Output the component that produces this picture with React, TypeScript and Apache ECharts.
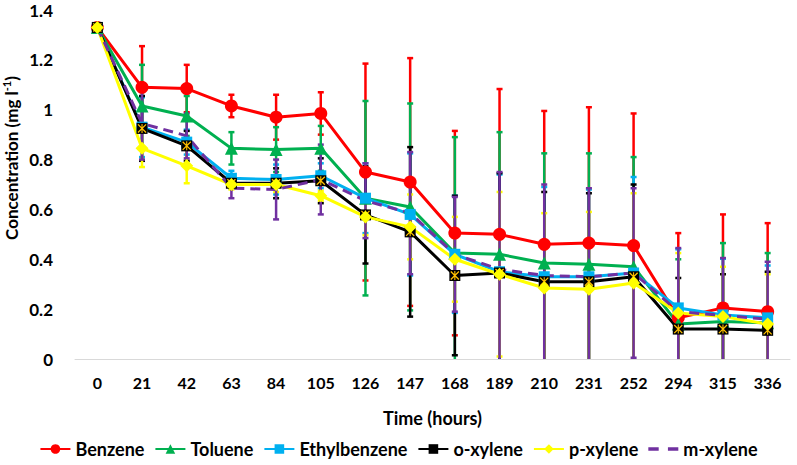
import React, { useEffect, useRef } from "react";
import * as echarts from "echarts";

const categories = ["0", "21", "42", "63", "84", "105", "126", "147", "168", "189", "210", "231", "252", "294", "315", "336"];
const yTicks = [0, 0.2, 0.4, 0.6, 0.8, 1, 1.2, 1.4];

const benzene = [1.33, 1.09, 1.085, 1.015, 0.97, 0.985, 0.75, 0.71, 0.505, 0.5, 0.46, 0.465, 0.455, 0.165, 0.205, 0.19];
const benzeneErr = [0, 0.165, 0.095, 0.045, 0.09, 0.085, 0.435, 0.497, 0.41, 0.583, 0.535, 0.545, 0.53, 0.34, 0.375, 0.355];
const toluene = [1.33, 1.015, 0.975, 0.845, 0.84, 0.845, 0.645, 0.61, 0.425, 0.42, 0.385, 0.38, 0.37, 0.14, 0.15, 0.145];
const tolueneErr = [0, 0.165, 0.08, 0.065, 0.09, 0.09, 0.39, 0.415, 0.465, 0.49, 0.44, 0.445, 0.44, 0.26, 0.315, 0.28];
const ethylbenzene = [1.33, 0.93, 0.87, 0.725, 0.72, 0.735, 0.645, 0.58, 0.42, 0.35, 0.33, 0.33, 0.345, 0.205, 0.177, 0.165];
const ethylbenzeneErr = [0, 0.12, 0.05, 0.03, 0.06, 0.05, 0.14, 0.245, 0.235, 0.39, 0.36, 0.35, 0.385, 0.235, 0.225, 0.21];
const oXylene = [1.33, 0.925, 0.855, 0.705, 0.705, 0.715, 0.578, 0.51, 0.335, 0.345, 0.31, 0.31, 0.33, 0.12, 0.12, 0.115];
const oXyleneErr = [0, 0.13, 0.06, 0.02, 0.06, 0.09, 0.195, 0.34, 0.32, 0.4, 0.36, 0.355, 0.37, 0.205, 0.22, 0.235];
const pXylene = [1.33, 0.845, 0.775, 0.7, 0.7, 0.655, 0.57, 0.53, 0.4, 0.34, 0.285, 0.28, 0.305, 0.185, 0.17, 0.14];
const pXyleneErr = [0, 0.075, 0.07, 0.02, 0.03, 0.02, 0.073, 0.13, 0.17, 0.33, 0.3, 0.31, 0.36, 0.24, 0.2, 0.2];
const mXylene = [1.33, 0.945, 0.895, 0.685, 0.68, 0.72, 0.635, 0.585, 0.42, 0.36, 0.335, 0.33, 0.345, 0.19, 0.175, 0.16];
const mXyleneErr = [0, 0.145, 0.09, 0.04, 0.12, 0.14, 0.15, 0.245, 0.23, 0.39, 0.365, 0.355, 0.34, 0.255, 0.23, 0.23];

const FONT = "Lato";

const seriesDefs = [
  { name: "Benzene", data: benzene, err: benzeneErr, color: "#FF0000", symbol: "circle", size: 13, dashed: false },
  { name: "Toluene", data: toluene, err: tolueneErr, color: "#00B050", symbol: "triangle", size: 13, dashed: false },
  { name: "Ethylbenzene", data: ethylbenzene, err: ethylbenzeneErr, color: "#00B0F0", symbol: "rect", size: 11, dashed: false },
  { name: "o-xylene", data: oXylene, err: oXyleneErr, color: "#000000", symbol: "rect", size: 11, dashed: false },
  { name: "p-xylene", data: pXylene, err: pXyleneErr, color: "#FFFF00", symbol: "diamond", size: 13, dashed: false },
  { name: "m-xylene", data: mXylene, err: mXyleneErr, color: "#7030A0", symbol: "none", size: 0, dashed: true },
];

const starPath =
  "path://M0,1 L1,0 L10,9 L9,10 Z M9,0 L10,1 L1,10 L0,9 Z M4.4,0 L5.6,0 L5.6,10 L4.4,10 Z";
const dashIconPath = "path://M0,0 L9,0 L9,3 L0,3 Z M17,0 L26,0 L26,3 L17,3 Z";

export default function App() {
  const ref = useRef<HTMLDivElement>(null);
  useEffect(() => {
    document.body.style.margin = "0";
    if (!ref.current) return;
    const chart = echarts.init(ref.current, null, { renderer: "svg" });

    const errSeries = seriesDefs.map((s) => ({
      type: "custom",
      name: s.name + "-err",
      z: 1,
      clip: true,
      silent: true,
      encode: { x: 0, y: 1 },
      data: s.data.map((v, i) => [i, v, s.err[i]]),
      renderItem: (params: any, api: any) => {
        const x = api.value(0);
        const v = api.value(1);
        const e = api.value(2);
        if (!e) return null;
        const top = api.coord([x, v + e]);
        const bot = api.coord([x, v - e]);
        const hw = 3;
        const style = { stroke: s.color, lineWidth: 2.5 };
        return {
          type: "group",
          children: [
            { type: "line", shape: { x1: top[0], y1: top[1], x2: bot[0], y2: bot[1] }, style },
            { type: "line", shape: { x1: top[0] - hw, y1: top[1], x2: top[0] + hw, y2: top[1] }, style },
            { type: "line", shape: { x1: bot[0] - hw, y1: bot[1], x2: bot[0] + hw, y2: bot[1] }, style },
          ],
        };
      },
    }));

    const lineSeries: any[] = [];
    seriesDefs.forEach((s) => {
      const base: any = {
        type: "line",
        name: s.name,
        data: s.data,
        z: 3,
        itemStyle: { color: s.color },
        lineStyle: { color: s.color, width: 3, type: s.dashed ? [10, 6] : "solid" },
      };
      if (s.symbol === "none") {
        base.symbol = "none";
        base.showSymbol = false;
        base.symbolSize = 0;
        base.itemStyle = { color: s.color, opacity: 0 };
      } else {
        base.symbol = s.symbol;
        base.symbolSize = s.size;
      }
      lineSeries.push(base);
      if (s.name === "o-xylene") {
        lineSeries.push({
          type: "line",
          name: "o-xylene-mark",
          data: s.data,
          z: 3,
          symbol: starPath,
          symbolSize: 9,
          itemStyle: { color: "#FFC000" },
          lineStyle: { opacity: 0, width: 0 },
        });
      }
    });

    chart.setOption({
      animation: false,
      grid: { left: 75, right: 7, top: 10, bottom: 106, outerBoundsMode: "none", containLabel: false },
      legend: {
        data: seriesDefs.map((s) =>
          s.symbol === "none"
            ? { name: s.name, icon: dashIconPath, itemStyle: { color: s.color, opacity: 1 } }
            : { name: s.name }
        ),
        top: 435,
        left: "center",
        itemWidth: 30,
        itemHeight: 12,
        itemGap: 10,
        textStyle: { fontFamily: FONT, fontWeight: "bold", fontSize: 18, color: "#000" },
      },
      graphic: [
        {
          type: "text",
          x: 11,
          y: 158,
          rotation: Math.PI / 2,
          style: {
            text: "{a|Concentration (mg l}{b|-1}{a|)}",
            align: "center",
            verticalAlign: "middle",
            rich: {
              a: { fontFamily: FONT, fontWeight: "bold", fontSize: 17, fill: "#000", lineHeight: 20 },
              b: { fontFamily: FONT, fontWeight: "bold", fontSize: 11, fill: "#000", lineHeight: 11, verticalAlign: "top" },
            },
          },
        },
      ],
      xAxis: {
        type: "category",
        data: categories,
        boundaryGap: true,
        axisTick: { show: false },
        axisLine: { lineStyle: { color: "#D9D9D9", width: 1 } },
        axisLabel: { fontFamily: FONT, fontWeight: "bold", fontSize: 16, color: "#000", margin: 15 },
        name: "Time (hours)",
        nameLocation: "middle",
        nameGap: 50,
        nameTextStyle: { fontFamily: FONT, fontWeight: "bold", fontSize: 18, color: "#000" },
      },
      yAxis: {
        type: "value",
        min: yTicks[0],
        max: yTicks[yTicks.length - 1],
        interval: 0.2,
        splitLine: { show: false },
        axisLine: { show: false },
        axisTick: { show: false },
        axisLabel: { fontFamily: FONT, fontWeight: "bold", fontSize: 17, color: "#000", margin: 22 },
      },
      series: [...errSeries, ...lineSeries],
    });
    return () => chart.dispose();
  }, []);
  return <div ref={ref} style={{ width: 797, height: 465 }} />;
}
